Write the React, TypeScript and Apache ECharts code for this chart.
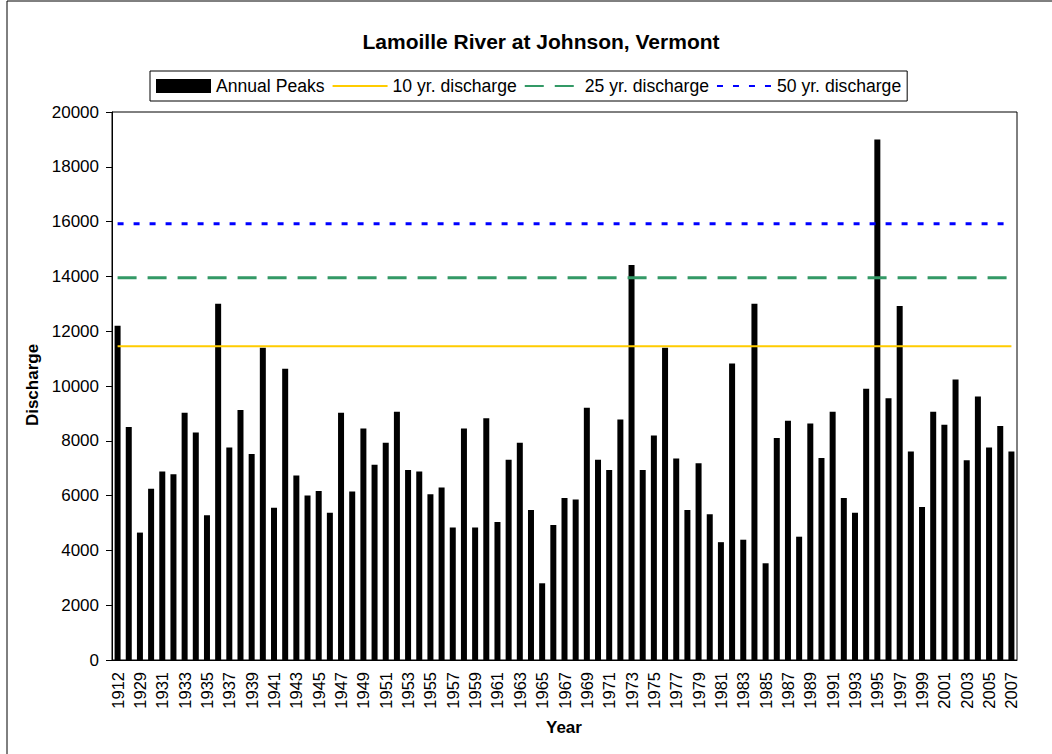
import React, { useEffect, useRef } from "react";
import * as echarts from "echarts";

const YEARS: string[] = [
  "1912", "1928", "1929", "1930", "1931", "1932", "1933", "1934", "1935", "1936",
  "1937", "1938", "1939", "1940", "1941", "1942", "1943", "1944", "1945", "1946",
  "1947", "1948", "1949", "1950", "1951", "1952", "1953", "1954", "1955", "1956",
  "1957", "1958", "1959", "1960", "1961", "1962", "1963", "1964", "1965", "1966",
  "1967", "1968", "1969", "1970", "1971", "1972", "1973", "1974", "1975", "1976",
  "1977", "1978", "1979", "1980", "1981", "1982", "1983", "1984", "1985", "1986",
  "1987", "1988", "1989", "1990", "1991", "1992", "1993", "1994", "1995", "1996",
  "1997", "1998", "1999", "2000", "2001", "2002", "2003", "2004", "2005", "2006",
  "2007",
];

const ANNUAL_PEAKS: number[] = [
  12200, 8500, 4650, 6250, 6880, 6780, 9020, 8300, 5280, 13000,
  7760, 9120, 7520, 11400, 5560, 10630, 6730, 6000, 6170, 5370,
  9020, 6150, 8450, 7130, 7930, 9060, 6930, 6880, 6050, 6300,
  4840, 8450, 4840, 8820, 5040, 7310, 7930, 5470, 2800, 4930,
  5910, 5860, 9210, 7310, 6930, 8780, 14420, 6930, 8190, 11400,
  7350, 5470, 7180, 5320, 4300, 10820, 4390, 13000, 3530, 8100,
  8730, 4500, 8630, 7370, 9060, 5910, 5370, 9900, 19000, 9550,
  12920, 7610, 5580, 9060, 8590, 10240, 7290, 9620, 7760, 8540,
  7610,
];

const TEN_YR = 11450;
const TWENTY_FIVE_YR = 13950;
const FIFTY_YR = 15920;

const Y_TICKS = { min: 0, max: 20000, interval: 2000 };

const FONT = "Liberation Sans, Arial, sans-serif";

export default function App() {
  const ref = useRef<HTMLDivElement>(null);

  useEffect(() => {
    if (!ref.current) return;
    const chart = echarts.init(ref.current, null, { renderer: "svg" });
    chart.setOption({
      animation: false,
      backgroundColor: "#ffffff",
      textStyle: { fontFamily: FONT },
      title: {
        text: "Lamoille River at Johnson, Vermont",
        left: 536,
        textAlign: "center",
        top: 26,
        textStyle: { fontFamily: FONT, fontSize: 21, fontWeight: "bold", color: "#000" },
      },
      legend: {
        left: 150,
        top: 71,
        orient: "horizontal",
        itemWidth: 55,
        itemHeight: 14,
        itemGap: 7,
        padding: [6, 6, 6, 6],
        borderColor: "#000",
        borderWidth: 1,
        textStyle: { fontFamily: FONT, fontSize: 17.6, color: "#000" },
        data: [
          { name: "Annual Peaks", icon: "rect" },
          { name: "10 yr. discharge", itemStyle: { opacity: 0 } },
          { name: "25 yr. discharge", itemStyle: { opacity: 0 } },
          { name: "50 yr. discharge", itemStyle: { opacity: 0 } },
        ],
      },
      grid: { left: 112, right: 35, top: 112, bottom: 94, show: true, borderColor: "#000", borderWidth: 1 },
      xAxis: {
        type: "category",
        data: YEARS,
        boundaryGap: true,
        axisLine: { lineStyle: { color: "#000", width: 1 } },
        axisTick: { interval: 0, alignWithLabel: false, length: 5, lineStyle: { color: "#000" } },
        axisLabel: {
          interval: 1,
          rotate: 90,
          margin: 12,
          fontSize: 16.5,
          fontFamily: FONT,
          color: "#000",
        },
        splitLine: { show: false },
      },
      yAxis: {
        type: "value",
        min: Y_TICKS.min,
        max: Y_TICKS.max,
        interval: Y_TICKS.interval,
        axisLine: { show: true, lineStyle: { color: "#000", width: 1 } },
        axisTick: { show: true, length: 6, lineStyle: { color: "#000" } },
        axisLabel: {
          fontSize: 17,
          fontFamily: FONT,
          color: "#000",
          margin: 13,
          formatter: (v: number) => String(v),
        },
        splitLine: { show: false },
      },
      graphic: [
        {
          type: "rect",
          shape: { x: 7, y: 1, width: 1200, height: 1000 },
          style: { fill: "none", stroke: "#000", lineWidth: 1 },
          silent: true,
          z: -10,
        },
        {
          type: "text",
          left: 546,
          top: 719,
          style: { text: "Year", fontFamily: FONT, fontSize: 17, fontWeight: "bold", fill: "#000" },
        },
        {
          type: "text",
          x: 32,
          y: 385,
          rotation: Math.PI / 2,
          style: {
            text: "Discharge",
            fontFamily: FONT,
            fontSize: 17,
            fontWeight: "bold",
            fill: "#000",
            textAlign: "center",
            textVerticalAlign: "middle",
          },
        },
      ],
      series: [
        {
          name: "Annual Peaks",
          type: "bar",
          data: ANNUAL_PEAKS,
          barWidth: 6,
          itemStyle: { color: "#000" },
          z: 1,
        },
        {
          name: "10 yr. discharge",
          type: "line",
          data: YEARS.map(() => TEN_YR),
          symbol: "none",
          lineStyle: { color: "#FFCC00", width: 2, type: "solid" },
          itemStyle: { color: "#FFCC00" },
          z: 3,
        },
        {
          name: "25 yr. discharge",
          type: "line",
          data: YEARS.map(() => TWENTY_FIVE_YR),
          symbol: "none",
          lineStyle: { color: "#339966", width: 3, type: [19, 11] },
          itemStyle: { color: "#339966" },
          z: 3,
        },
        {
          name: "50 yr. discharge",
          type: "line",
          data: YEARS.map(() => FIFTY_YR),
          symbol: "none",
          lineStyle: { color: "#0000FF", width: 3, type: [6, 10] },
          itemStyle: { color: "#0000FF" },
          z: 3,
        },
      ],
    });
    return () => chart.dispose();
  }, []);

  return (
    <div
      ref={ref}
      style={{ position: "fixed", left: 0, top: 0, width: 1052, height: 754 }}
    />
  );
}
